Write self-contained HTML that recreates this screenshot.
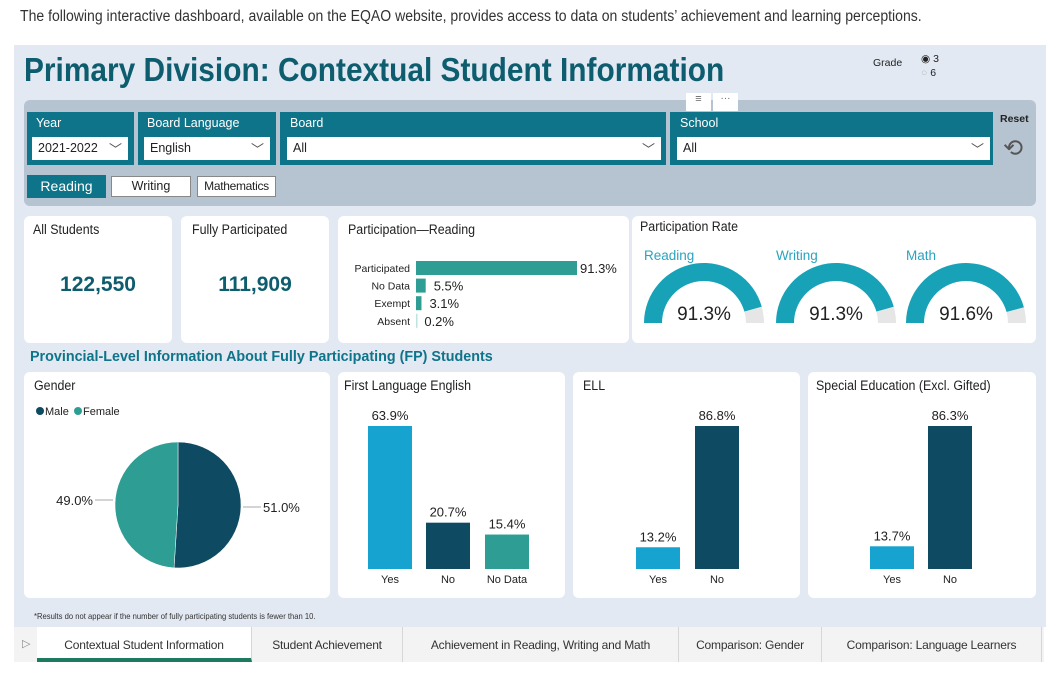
<!DOCTYPE html>
<html><head><meta charset="utf-8"><style>
*{box-sizing:border-box;margin:0;padding:0}
body{width:1056px;height:676px;background:#fff;font-family:"Liberation Sans",sans-serif;position:relative;overflow:hidden;color:#222}
.a{position:absolute}
.card{position:absolute;background:#fff;border-radius:6px}
.ft{color:#fff;font-size:12.5px}
.dd{position:absolute;background:#fff;height:23px;font-size:12.5px;padding:4px 6px;color:#222}
.chev{position:absolute;right:6px;top:2px;font-size:13px;color:#555}
.ct{position:absolute;font-size:13.5px;color:#222;transform:scaleX(0.92);transform-origin:left;white-space:nowrap}
.tab{position:absolute;top:627px;height:35px;font-size:12px;color:#333;text-align:center;line-height:36px;border-right:1px solid #d6d6d6;letter-spacing:-0.2px}
</style></head><body>
<div class="a" style="left:20px;top:8px;font-size:15.5px;color:#333;transform:scaleX(0.905);transform-origin:left;white-space:nowrap">The following interactive dashboard, available on the EQAO website, provides access to data on students’ achievement and learning perceptions.</div>
<div class="a" style="left:14px;top:45px;width:1032px;height:582px;background:#e3e9f3"></div>
<div class="a" style="left:24px;top:51px;font-size:33px;font-weight:bold;color:#0d5d6e;transform:scaleX(0.905);transform-origin:left;white-space:nowrap">Primary Division: Contextual Student Information</div>
<div class="a" style="left:873px;top:57px;font-size:10.5px">Grade</div>
<div class="a" style="left:921px;top:53px;font-size:10.5px">◉ 3</div>
<div class="a" style="left:921px;top:67px;font-size:10.5px"><span style="color:#bbb">○</span> 6</div>

<div class="a" style="left:24px;top:100px;width:1012px;height:106px;background:#b6c3d1;border-radius:6px"></div>
<div class="a" style="left:686px;top:93px;width:25px;height:18px;background:#fff;font-size:11px;text-align:center;color:#666">≡</div>
<div class="a" style="left:713px;top:93px;width:25px;height:18px;background:#fff;font-size:10px;text-align:center;color:#666">···</div>

<div class="a" style="left:27px;top:112px;width:107px;height:53px;background:#0e7489"><div class="a ft" style="left:9px;top:4px">Year</div></div>
<div class="dd" style="left:32px;top:137px;width:96px">2021-2022<span class="chev">﹀</span></div>
<div class="a" style="left:138px;top:112px;width:138px;height:53px;background:#0e7489"><div class="a ft" style="left:9px;top:4px">Board Language</div></div>
<div class="dd" style="left:144px;top:137px;width:126px">English<span class="chev">﹀</span></div>
<div class="a" style="left:280px;top:112px;width:386px;height:53px;background:#0e7489"><div class="a ft" style="left:10px;top:4px">Board</div></div>
<div class="dd" style="left:287px;top:137px;width:374px">All<span class="chev">﹀</span></div>
<div class="a" style="left:670px;top:112px;width:323px;height:53px;background:#0e7489"><div class="a ft" style="left:10px;top:4px">School</div></div>
<div class="dd" style="left:677px;top:137px;width:313px">All<span class="chev">﹀</span></div>
<div class="a" style="left:1000px;top:113px;font-size:10.5px;font-weight:bold;color:#222">Reset</div>
<div class="a" style="left:1003px;top:134px;font-size:24px;color:#555">⟲</div>

<div class="a" style="left:27px;top:175px;width:79px;height:23px;background:#0e7489;color:#fff;font-size:14px;text-align:center;line-height:23px">Reading</div>
<div class="a" style="left:111px;top:176px;width:80px;height:21px;background:#fff;border:1px solid #888;font-size:12.5px;text-align:center;line-height:19px">Writing</div>
<div class="a" style="left:197px;top:176px;width:79px;height:21px;background:#fff;border:1px solid #888;font-size:12px;text-align:center;line-height:19px;letter-spacing:-0.3px">Mathematics</div>

<div class="card" style="left:24px;top:216px;width:148px;height:127px"><div class="ct" style="left:9px;top:6px">All Students</div><div class="a" style="left:0;width:148px;top:57px;text-align:center;font-size:21px;font-weight:bold;color:#0d5d6e">122,550</div></div>
<div class="card" style="left:181px;top:216px;width:148px;height:127px"><div class="ct" style="left:11px;top:6px">Fully Participated</div><div class="a" style="left:0;width:148px;top:57px;text-align:center;font-size:21px;font-weight:bold;color:#0d5d6e">111,909</div></div>
<div class="card" style="left:338px;top:216px;width:291px;height:127px"><div class="ct" style="left:10px;top:6px">Participation—Reading</div></div>
<div class="card" style="left:632px;top:216px;width:404px;height:127px"><div class="ct" style="left:8px;top:3px">Participation Rate</div></div>

<div class="a" style="left:30px;top:348px;font-size:15px;font-weight:bold;color:#0e7489;transform:scaleX(0.955);transform-origin:left;white-space:nowrap">Provincial-Level Information About Fully Participating (FP) Students</div>

<div class="card" style="left:24px;top:372px;width:306px;height:226px"><div class="ct" style="left:10px;top:6px">Gender</div></div>
<div class="card" style="left:338px;top:372px;width:227px;height:226px"><div class="ct" style="left:6px;top:6px">First Language English</div></div>
<div class="card" style="left:573px;top:372px;width:227px;height:226px"><div class="ct" style="left:10px;top:6px">ELL</div></div>
<div class="card" style="left:808px;top:372px;width:228px;height:226px"><div class="ct" style="left:8px;top:6px">Special Education (Excl. Gifted)</div></div>

<div class="a" style="left:34px;top:611px;font-size:8.5px;color:#333;transform:scaleX(0.9);transform-origin:left;white-space:nowrap">*Results do not appear if the number of fully participating students is fewer than 10.</div>

<div class="a" style="left:14px;top:627px;width:1030px;height:35px;background:#f3f3f3"></div>
<div class="a" style="left:22px;top:637px;font-size:11px;color:#888">▷</div>
<div class="tab" style="left:37px;width:215px;background:#fff;border-bottom:4px solid #1b7a60">Contextual Student Information</div>
<div class="tab" style="left:252px;width:151px">Student Achievement</div>
<div class="tab" style="left:403px;width:276px">Achievement in Reading, Writing and Math</div>
<div class="tab" style="left:679px;width:143px">Comparison: Gender</div>
<div class="tab" style="left:822px;width:220px">Comparison: Language Learners</div>

<svg id="chart" class="a" style="left:0;top:0" width="1056" height="676" font-family="Liberation Sans, sans-serif"></svg>

<script>
const partCats=["Participated","No Data","Exempt","Absent"];
const partVals=[91.3,5.5,3.1,0.2];
const gaugeCats=["Reading","Writing","Math"];
const gaugeVals=[91.3,91.3,91.6];
const genderCats=["Male","Female"];
const genderVals=[51.0,49.0];
const fleCats=["Yes","No","No Data"];
const fleVals=[63.9,20.7,15.4];
const ellCats=["Yes","No"];
const ellVals=[13.2,86.8];
const speCats=["Yes","No"];
const speVals=[13.7,86.3];

const NS="http://www.w3.org/2000/svg";
const svg=document.getElementById('chart');
function mk(tag,attrs,parent){const e=document.createElementNS(NS,tag);for(const k in attrs)e.setAttribute(k,attrs[k]);(parent||svg).appendChild(e);return e;}
function txt(x,y,s,attrs){const t=mk('text',Object.assign({x:x,y:y,'font-size':12,fill:'#222'},attrs||{}));t.textContent=s;return t;}

const px=v=>416+v*(161/91.3);
partCats.forEach((c,i)=>{
  const y=261+i*17.6;
  const l=txt(410,y+11,c,{'font-size':10.5,'text-anchor':'end'});
  
  
  const b=mk('rect',{x:416,y:y,width:Math.max(px(partVals[i])-416,1.5),height:14,fill:i==3?'#bfe3df':'#2e9e94'});
  
  
  const v=txt(px(partVals[i])+(i==0?3:8),y+12,partVals[i].toFixed(1)+'%',{'font-size':13});
  
  
});

const gcx=[704,836,966];
gaugeCats.forEach((c,i)=>{
  const cx=gcx[i],cy=323,R=60,r=42;
  const arc=(a0,a1,col)=>{
    const p=(a,rad)=>[cx+rad*Math.cos(a),cy-rad*Math.sin(a)];
    const [x0,y0]=p(a0,R),[x1,y1]=p(a1,R),[x2,y2]=p(a1,r),[x3,y3]=p(a0,r);
    return mk('path',{d:`M${x0},${y0} A${R},${R} 0 0 1 ${x1},${y1} L${x2},${y2} A${r},${r} 0 0 0 ${x3},${y3} Z`,fill:col});
  };
  const split=Math.PI*(1-gaugeVals[i]/100);
  const g1=arc(Math.PI,split,'#17a2b8');
  
  
  const g2=arc(split,0,'#e6e6e6');
  
  
  const t=txt(cx-60,260,c,{'font-size':13.5,fill:'#2aa3c0'});
  
  
  const v=txt(cx,320,gaugeVals[i].toFixed(1)+'%',{'font-size':19,'text-anchor':'middle',fill:'#222'});
  
  
});

const pcx=178,pcy=505,pr=63;
const gCols=['#0e4b62','#2e9e94'];
let acc=0;const tot=genderVals.reduce((a,b)=>a+b,0);
genderVals.forEach((v,i)=>{
  const a0=acc/tot*2*Math.PI;acc+=v;const a1=acc/tot*2*Math.PI;
  const P=a=>[pcx+pr*Math.sin(a),pcy-pr*Math.cos(a)];
  const [x0,y0]=P(a0),[x1,y1]=P(a1);
  const s=mk('path',{d:`M${pcx},${pcy} L${x0},${y0} A${pr},${pr} 0 ${a1-a0>Math.PI?1:0} 1 ${x1},${y1} Z`,fill:gCols[i],stroke:'#fff','stroke-width':0.5});
  
  
  const mid=(a0+a1)/2,right=Math.sin(mid)>0;
  const ex=pcx+(right?pr:-pr),ey=pcy+(right?2:-5);
  mk('line',{x1:ex+(right?2:-2),y1:ey,x2:ex+(right?20:-20),y2:ey,stroke:'#aaa'});
  const l=txt(ex+(right?22:-22),ey+5,v.toFixed(1)+'%',{'font-size':13,'text-anchor':right?'start':'end'});
  
  
  const lx=[36,74][i];
  const dot=mk('circle',{cx:lx+4,cy:411,r:4,fill:gCols[i]});
  
  
  const lt=txt(lx+9,415,genderCats[i],{'font-size':11});
  
  
});

function columns(cats,vals,xs,cols,name){
  const max=Math.max(...vals),base=569,h=143;
  const y=v=>base-v/max*h;
  cats.forEach((c,i)=>{
    const b=mk('rect',{x:xs[i],y:y(vals[i]),width:44,height:base-y(vals[i]),fill:cols[i]});
    
    
    const v=txt(xs[i]+22,y(vals[i])-6,vals[i].toFixed(1)+'%',{'font-size':13,'text-anchor':'middle'});
    
    
    const l=txt(xs[i]+22,583,c,{'font-size':11,'text-anchor':'middle'});
    
    
  });
}
columns(fleCats,fleVals,[368,426,485],['#17a3cf','#0e4b62','#2e9e94'],'fle');
columns(ellCats,ellVals,[636,695],['#17a3cf','#0e4b62'],'ell');
columns(speCats,speVals,[870,928],['#17a3cf','#0e4b62'],'sped');
</script>
</body></html>
